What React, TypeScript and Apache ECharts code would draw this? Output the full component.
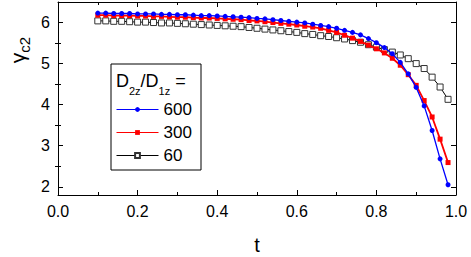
import React, { useEffect, useRef } from "react";
import * as echarts from "echarts";

const tValues = [0.10,0.12,0.14,0.16,0.18,0.20,0.22,0.24,0.26,0.28,0.30,0.32,0.34,0.36,0.38,0.40,0.42,0.44,0.46,0.48,0.50,0.52,0.54,0.56,0.58,0.60,0.62,0.64,0.66,0.68,0.70,0.72,0.74,0.76,0.78,0.80,0.82,0.84,0.86,0.88,0.90,0.92,0.94,0.96,0.98];
const s600 = [6.23,6.23,6.22,6.22,6.22,6.21,6.21,6.21,6.20,6.20,6.19,6.19,6.18,6.17,6.17,6.16,6.15,6.14,6.13,6.12,6.10,6.09,6.07,6.05,6.03,6.01,5.99,5.96,5.93,5.90,5.86,5.81,5.76,5.70,5.61,5.51,5.39,5.24,5.03,4.75,4.42,3.97,3.37,2.68,2.05];
const s300 = [6.18,6.18,6.17,6.17,6.17,6.16,6.16,6.15,6.15,6.14,6.13,6.13,6.12,6.11,6.11,6.10,6.09,6.08,6.07,6.05,6.04,6.02,6.00,5.98,5.96,5.94,5.91,5.89,5.86,5.81,5.76,5.69,5.62,5.54,5.45,5.36,5.26,5.13,4.96,4.73,4.47,4.10,3.70,3.16,2.59];
const s60 = [6.04,6.04,6.03,6.03,6.02,6.01,6.01,6.00,5.99,5.99,5.98,5.97,5.96,5.95,5.94,5.93,5.92,5.91,5.90,5.88,5.86,5.84,5.82,5.80,5.78,5.76,5.73,5.71,5.68,5.66,5.63,5.60,5.56,5.52,5.46,5.40,5.34,5.28,5.21,5.12,5.00,4.88,4.67,4.43,4.13];
const seriesNames = ["600", "300", "60"];
const yMajor = [2, 3, 4, 5, 6];
const yMinor = [2.5, 3.5, 4.5, 5.5];

const FONT = "Liberation Sans, Arial, sans-serif";
const COLORS = ["#0000ff", "#ff0000", "#000000"];

export default function App() {
  const ref = useRef<HTMLDivElement>(null);
  useEffect(() => {
    if (!ref.current) return;
    const chart = echarts.init(ref.current, null, { renderer: "svg" });
    const pair = (arr: number[]) => tValues.map((t, i) => [t, arr[i]]);
    const yBase = {
      type: "value",
      min: 1.8,
      max: 6.5,
      splitLine: { show: false },
    };
    const xBase = {
      type: "value",
      min: 0,
      max: 1,
      interval: 0.2,
      splitLine: { show: false },
    };
    chart.setOption({
      animation: false,
      backgroundColor: "#fff",
      grid: { left: 58, right: 15, top: 2, bottom: 62, containLabel: false },
      xAxis: [
        {
          ...xBase,
          position: "bottom",
          axisLine: { show: true, lineStyle: { color: "#000", width: 1 } },
          axisTick: { show: true, inside: true, length: 5, lineStyle: { color: "#000" } },
          minorTick: { show: true, splitNumber: 2, length: 3, lineStyle: { color: "#000" } },
          axisLabel: {
            show: true,
            margin: 8,
            color: "#000",
            fontSize: 16,
            fontFamily: FONT,
            formatter: (v: number) => v.toFixed(1),
          },
        },
        {
          ...xBase,
          position: "top",
          axisLine: { show: true, lineStyle: { color: "#000", width: 1 } },
          axisTick: { show: true, inside: true, length: 5, lineStyle: { color: "#000" } },
          minorTick: { show: true, splitNumber: 2, length: 3, lineStyle: { color: "#000" } },
          axisLabel: { show: false },
        },
      ],
      yAxis: [
        {
          ...yBase,
          position: "left",
          axisLine: { show: true, onZero: false, lineStyle: { color: "#000", width: 1 } },
          axisTick: { show: true, inside: true, length: 5, customValues: yMajor, lineStyle: { color: "#000" } },
          axisLabel: {
            show: true,
            customValues: yMajor,
            margin: 8,
            color: "#000",
            fontSize: 16,
            fontFamily: FONT,
          },
        },
        {
          ...yBase,
          position: "left",
          axisLine: { show: false },
          axisTick: { show: true, inside: true, length: 3, customValues: yMinor, lineStyle: { color: "#000" } },
          axisLabel: { show: false },
        },
        {
          ...yBase,
          position: "right",
          axisLine: { show: true, onZero: false, lineStyle: { color: "#000", width: 1 } },
          axisTick: { show: true, inside: true, length: 5, customValues: yMajor, lineStyle: { color: "#000" } },
          axisLabel: { show: false },
        },
        {
          ...yBase,
          position: "right",
          axisLine: { show: false },
          axisTick: { show: true, inside: true, length: 3, customValues: yMinor, lineStyle: { color: "#000" } },
          axisLabel: { show: false },
        },
      ],
      legend: {
        show: true,
        orient: "vertical",
        left: 116,
        top: 100,
        padding: 0,
        itemWidth: 42,
        itemHeight: 6,
        itemGap: 4,
        textStyle: { fontSize: 17, fontFamily: FONT, color: "#000", lineHeight: 19 },
        data: seriesNames.map((n, i) => ({
          name: n,
          lineStyle: { color: COLORS[i], width: 1 },
        })),
      },
      graphic: [
        {
          type: "rect",
          shape: { x: 111, y: 64, width: 90, height: 106 },
          style: { fill: "#fff", stroke: "#000", lineWidth: 1 },
          z: 0,
          silent: true,
        },
        {
          type: "text",
          x: 116,
          y: 66,
          z: 10,
          style: {
            text: "{n|D}{s|2z}{n|/D}{s|1z}{n| =}",
            fill: "#000",
            rich: {
              n: { fontSize: 18, fontFamily: FONT, lineHeight: 30, fill: "#000" },
              s: { fontSize: 11, fontFamily: FONT, lineHeight: 11, verticalAlign: "bottom", fill: "#000" },
            },
          },
        },
        {
          type: "text",
          x: 257,
          y: 245,
          style: {
            text: "t",
            fontSize: 20,
            fontFamily: FONT,
            fill: "#000",
            align: "center",
            verticalAlign: "middle",
          },
        },
        {
          type: "text",
          x: 17,
          y: 50,
          rotation: Math.PI / 2,
          style: {
            text: "{g|γ}{s|c2}",
            align: "center",
            verticalAlign: "middle",
            fill: "#000",
            rich: {
              g: { fontSize: 21, fontFamily: FONT, lineHeight: 30, fill: "#000" },
              s: { fontSize: 15, fontFamily: FONT, lineHeight: 15, verticalAlign: "bottom", fill: "#000" },
            },
          },
        },
      ],
      series: [
        {
          name: seriesNames[0],
          type: "line",
          data: pair(s600),
          symbol: "circle",
          symbolSize: 5,
          lineStyle: { color: COLORS[0], width: 1.3 },
          itemStyle: { color: COLORS[0] },
          z: 5,
        },
        {
          name: seriesNames[1],
          type: "line",
          data: pair(s300),
          symbol: "rect",
          symbolSize: 5,
          lineStyle: { color: COLORS[1], width: 1.8 },
          itemStyle: { color: COLORS[1] },
          z: 4,
        },
        {
          name: seriesNames[2],
          type: "line",
          data: pair(s60),
          symbol: "rect",
          symbolSize: 6,
          lineStyle: { color: COLORS[2], width: 1 },
          itemStyle: { color: "#fff", borderColor: "#333", borderWidth: 1 },
          z: 3,
        },
      ],
    });
    return () => chart.dispose();
  }, []);
  return (
    <div
      ref={ref}
      style={{ position: "absolute", left: 0, top: 0, width: 471, height: 257 }}
    />
  );
}
